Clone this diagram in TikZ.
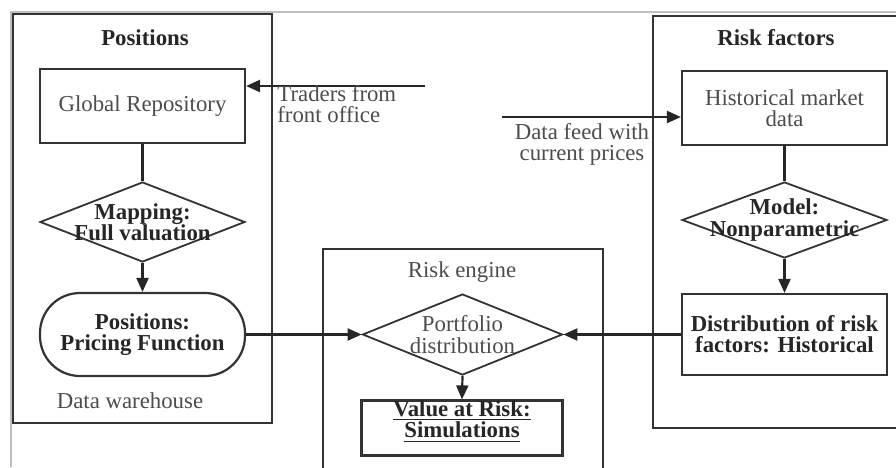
\documentclass[tikz,border=0pt]{standalone}
\usepackage{fontspec}
\setmainfont{Liberation Serif}
\usetikzlibrary{shapes.geometric,arrows.meta}

\tikzset{
    box/.style={draw=black!80, line width=1.1pt, inner sep=0pt, align=center, text=black!70},
    decision/.style={diamond, draw=black!80, line width=0.9pt, inner sep=0pt},
    boldtext/.style={align=center, inner sep=0pt, text=black!85, font=\fontsize{11.4}{10.6}\selectfont\bfseries},
    plaintext/.style={inner sep=0pt, text=black!70},
    flow/.style={line width=1.1pt, draw=black!85, -{Triangle[length=7pt,width=6pt]}},
    link/.style={line width=1.1pt, draw=black!85}
}

\begin{document}
\begin{tikzpicture}[x=0.5pt, y=-0.5pt, font=\fontsize{11.4}{10.6}\selectfont]
            \useasboundingbox (0,0) rectangle (896,467);

            % page edge
            \draw[black!25, line width=0.6pt] (11,467) -- (11,12) -- (896,12);

            % containers
            \filldraw[draw=black!80, fill=white, line width=1.1pt] (13,14) rectangle (272,423);
            \draw[black!80, line width=1.1pt] (323,470) -- (323,249) -- (603,249) -- (603,470);
            \draw[black!80, line width=1.1pt] (900,16) -- (653,16) -- (653,428) -- (900,428);

            \node[boldtext] (postitle) at (145,38) {Positions};
            \node[boldtext] (rftitle) at (776,38) {Risk factors};
            \node[plaintext] (retitle) at (462,272) {Risk engine};
            \node[plaintext] (dwh) at (130,401) {Data warehouse};

            % positions side
            \node[box, minimum width=102.5pt, minimum height=37pt] (repo) at (142.5,106) {Global Repository};
            \node[decision, minimum width=102.5pt, minimum height=40pt,
                label={[boldtext]center:{Mapping:\\Full valuation}}] (mapping) at (142.5,222) {};
            \node[box, rounded corners=20pt, minimum width=102.5pt, minimum height=41.5pt,
                text=black!85, font=\fontsize{11.4}{10.6}\selectfont\bfseries] (pricing) at (142.5,334.5) {Positions:\\Pricing Function};

            % risk factor side
            \node[box, minimum width=102.5pt, minimum height=37pt] (market) at (784.5,108) {Historical market\\data};
            \node[decision, minimum width=102.5pt, minimum height=38pt,
                label={[boldtext]center:{Model:\\Nonparametric}}] (model) at (784.5,220) {};
            \node[box, minimum width=102.5pt, minimum height=40.5pt,
                text=black!85, font=\fontsize{11.4}{10.6}\selectfont\bfseries] (riskdist) at (784.5,334.5) {Distribution of risk\\factors: Historical};

            % risk engine
            \node[decision, minimum width=100pt, minimum height=40.5pt,
                label={[plaintext, align=center]center:{Portfolio\\distribution}}] (portfolio) at (462.5,334.5) {};
            \node[box, minimum width=100.5pt, minimum height=27.5pt,
                label={[boldtext, anchor=north, yshift=-0.5pt]north:{\underline{Value at Risk:}\\\underline{Simulations}}}] (var) at (462,428) {};

            % inputs
            \coordinate (traders) at (425,86);
            \coordinate (feed) at (502,117);
            \draw[flow] (traders) -- (traders -| repo.east);
            \draw[flow] (feed) -- (feed -| market.west);
            \node[plaintext, anchor=west, align=left] (tradtxt) at (277,104) {Traders from\\front office};
            \node[plaintext, align=center] (feedtxt) at (582,144) {Data feed with\\current prices};

            % connectors
            \draw[link] (repo.south) -- (mapping.north);
            \draw[flow] (mapping.south) -- (pricing.north);
            \draw[link] (market.south) -- (model.north);
            \draw[flow] (model.south) -- (riskdist.north);
            \draw[flow] (pricing.east) -- (portfolio.west);
            \draw[flow] (riskdist.west) -- (portfolio.east);
            \draw[flow] (portfolio.south) -- (var.north);
        \end{tikzpicture}
\end{document}
